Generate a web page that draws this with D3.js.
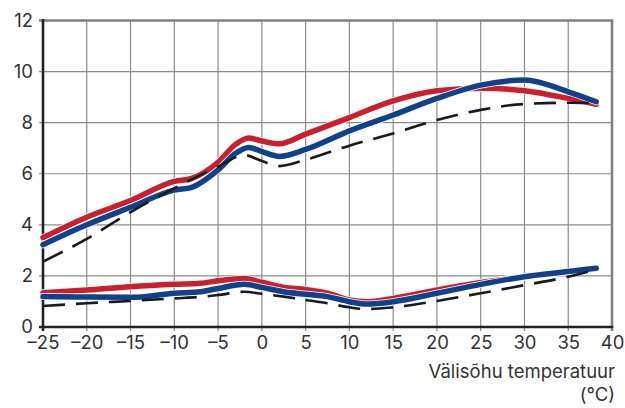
<!DOCTYPE html>
<html>
<head>
<meta charset="utf-8">
<script src="https://cdn.jsdelivr.net/npm/d3@7"></script>
<style>
  html, body { margin: 0; padding: 0; background: #fff; }
  svg { display: block; }
  text { font-family: Inter, "Open Sans", sans-serif; fill: #333; }
</style>
</head>
<body>
<svg id="chart" width="625" height="408"></svg>
<script>
// ---- data ----
const xTicks = [-25, -20, -15, -10, -5, 0, 5, 10, 15, 20, 25, 30, 35, 40];
const yTicks = [0, 2, 4, 6, 8, 10, 12];
const xTitle = "Välisõhu temperatuur";
const xUnit = "(°C)";

const upperX    = [-25, -20, -15, -10, -8, -5, -3, -1.5, 0, 2, 5, 10, 15, 20, 25, 30, 35, 38.2];
const redUpper  = [3.5, 4.3, 4.95, 5.7, 5.82, 6.45, 7.15, 7.4, 7.28, 7.17, 7.55, 8.2, 8.85, 9.25, 9.35, 9.25, 8.95, 8.72];
const blueUpper = [3.22, 4.0, 4.69, 5.36, 5.47, 6.15, 6.8, 7.03, 6.87, 6.68, 6.95, 7.68, 8.3, 8.95, 9.47, 9.67, 9.21, 8.82];

const dashUpperX = [-25, -20, -15, -10, -5, -2, 0, 2, 5, 10, 15, 20, 25, 30, 35, 38.2];
const dashUpper  = [2.56, 3.45, 4.5, 5.43, 6.28, 6.73, 6.5, 6.3, 6.55, 7.1, 7.58, 8.1, 8.5, 8.73, 8.78, 8.76];

const lowerX    = [-25, -20, -15, -10, -7, -5, -2, 0, 2.5, 5, 7.5, 10, 12, 15, 20, 25, 30, 35, 38.2];
const redLower  = [1.34, 1.45, 1.58, 1.67, 1.71, 1.81, 1.9, 1.75, 1.55, 1.47, 1.32, 1.06, 0.99, 1.12, 1.45, 1.74, 1.97, 2.17, 2.3];
const blueLower = [1.19, 1.17, 1.16, 1.32, 1.38, 1.51, 1.67, 1.55, 1.38, 1.28, 1.19, 0.99, 0.9, 0.99, 1.32, 1.67, 1.97, 2.17, 2.3];
const dashLower = [0.82, 0.93, 1.02, 1.12, 1.18, 1.25, 1.38, 1.3, 1.19, 1.06, 0.93, 0.77, 0.7, 0.77, 1.02, 1.32, 1.64, 1.97, 2.26];

// ---- layout ----
const margin = { left: 43, top: 20.5, right: 13, bottom: 81 };
const W = 625, H = 408;
const w = W - margin.left - margin.right;
const h = H - margin.top - margin.bottom;
const fontSize = 18.5;

const svg = d3.select("#chart");
const g = svg.append("g").attr("transform", `translate(${margin.left},${margin.top})`);

const x = d3.scaleLinear().domain([-25, 40]).range([0, w]);
const y = d3.scaleLinear().domain([0, 12]).range([h, 0]);

const gridColor = "#8c8c8c";

// vertical gridlines (extend below the axis as ticks)
g.append("g").selectAll("line").data(xTicks.filter(t => t > -25 && t < 40)).join("line")
  .attr("x1", d => x(d)).attr("x2", d => x(d))
  .attr("y1", 0).attr("y2", h + 4)
  .attr("stroke", gridColor).attr("stroke-width", 1.2);

// horizontal gridlines (extend left as ticks)
g.append("g").selectAll("line").data(yTicks.filter(t => t > 0 && t < 12)).join("line")
  .attr("x1", -4).attr("x2", w)
  .attr("y1", d => y(d)).attr("y2", d => y(d))
  .attr("stroke", gridColor).attr("stroke-width", 1.2);

// top & right borders (grey)
g.append("line").attr("x1", -4).attr("x2", w + 1.2).attr("y1", y(12)).attr("y2", y(12))
  .attr("stroke", "#808080").attr("stroke-width", 2.5);
g.append("line").attr("x1", x(40)).attr("x2", x(40)).attr("y1", y(12)).attr("y2", h + 4)
  .attr("stroke", "#808080").attr("stroke-width", 2.5);

// axes (labels via d3 axis)
const xAxis = g.append("g").attr("transform", `translate(0,${h})`)
  .call(d3.axisBottom(x).tickValues(xTicks).tickSize(0).tickPadding(9)
    .tickFormat(d => d < 0 ? "–" + Math.abs(d) : String(d)));
xAxis.select(".domain").remove();
xAxis.selectAll("text").attr("font-size", fontSize).attr("fill", "#333")
  .style("font-family", "Inter, sans-serif").attr("dy", "0.72em");

const yAxis = g.append("g")
  .call(d3.axisLeft(y).tickValues(yTicks).tickSize(0).tickPadding(10));
yAxis.select(".domain").remove();
yAxis.selectAll("text").attr("font-size", fontSize).attr("fill", "#333")
  .style("font-family", "Inter, sans-serif");

// dark left and bottom axis lines
g.append("line").attr("x1", 0).attr("x2", 0).attr("y1", -1.5).attr("y2", h + 4)
  .attr("stroke", "#222").attr("stroke-width", 2.6);
g.append("line").attr("x1", -4).attr("x2", x(40) + 1.2).attr("y1", h).attr("y2", h)
  .attr("stroke", "#222").attr("stroke-width", 2.6);

// ---- lines ----
const line = d3.line().x(d => x(d[0])).y(d => y(d[1])).curve(d3.curveMonotoneX);
const zip = (xs, ys) => xs.map((v, i) => [v, ys[i]]);

const red = "#cc1f2d", blue = "#12418c";

function solid(data, color) {
  g.append("path").datum(data).attr("d", line)
    .attr("fill", "none").attr("stroke", "#fff").attr("stroke-width", 7)
    .attr("stroke-linecap", "round").attr("stroke-linejoin", "round");
  g.append("path").datum(data).attr("d", line)
    .attr("fill", "none").attr("stroke", color).attr("stroke-width", 5.5)
    .attr("stroke-linecap", "round").attr("stroke-linejoin", "round");
}
function dashed(data) {
  g.append("path").datum(data).attr("d", line)
    .attr("fill", "none").attr("stroke", "#1a1a1a").attr("stroke-width", 2.6)
    .attr("stroke-dasharray", "22,11");
}

solid(zip(upperX, redUpper), red);
solid(zip(lowerX, redLower), red);
solid(zip(upperX, blueUpper), blue);
solid(zip(lowerX, blueLower), blue);
dashed(zip(dashUpperX, dashUpper));
dashed(zip(lowerX, dashLower));

// axis title
svg.append("text").attr("x", 615).attr("y", 378).attr("text-anchor", "end")
  .attr("font-size", fontSize).text(xTitle);
svg.append("text").attr("x", 615).attr("y", 401).attr("text-anchor", "end")
  .attr("font-size", fontSize).text(xUnit);
</script>
</body>
</html>
